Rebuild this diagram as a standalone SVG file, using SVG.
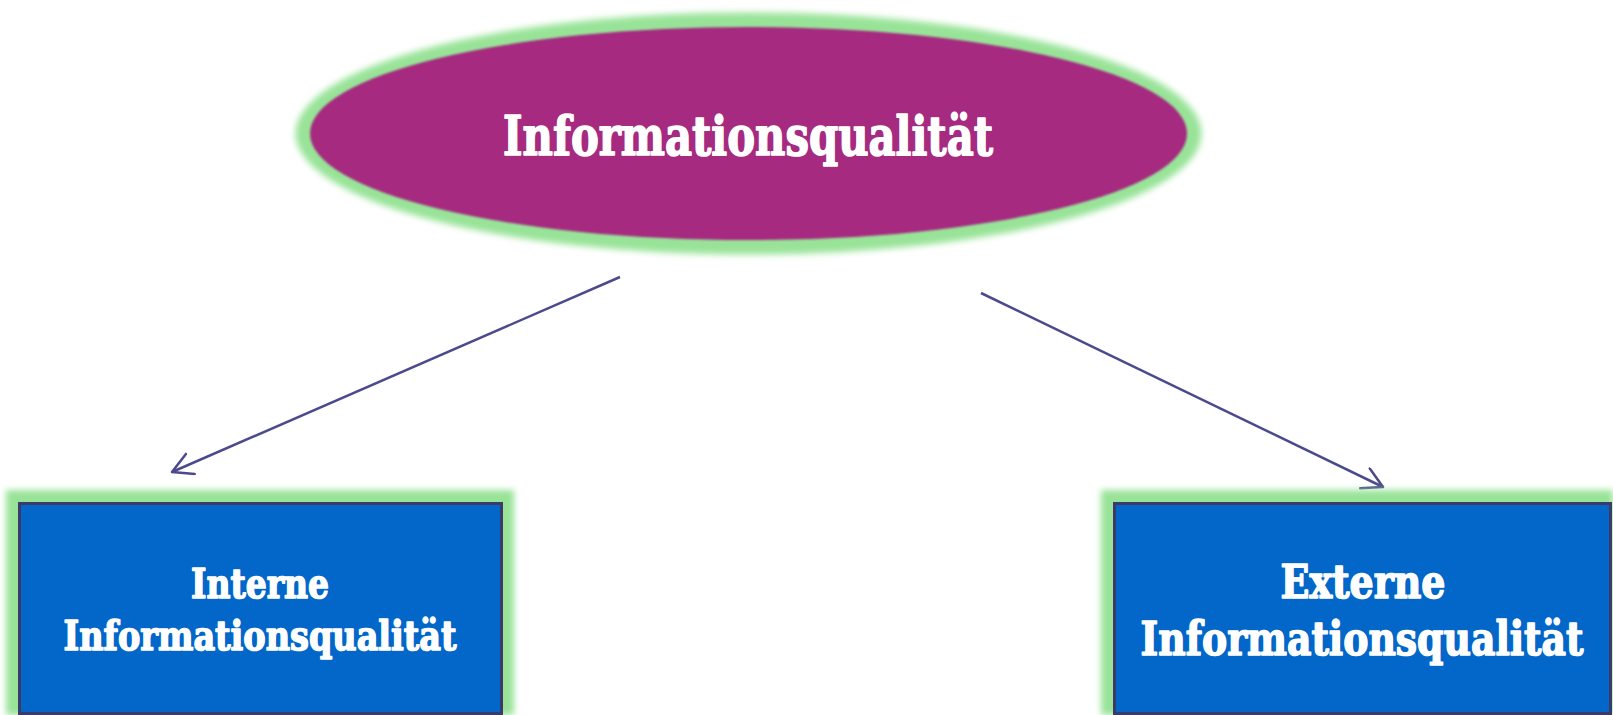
<svg xmlns="http://www.w3.org/2000/svg" width="1613" height="715" viewBox="0 0 1613 715">
<style>
.lbl{font-family:"DejaVu Serif","Liberation Serif",serif;font-weight:bold;fill:#ffffff;stroke:#ffffff;stroke-width:1.6;stroke-linejoin:round;text-anchor:middle}
.conn{stroke:#4b4a8c;stroke-width:2.5;fill:none}
.glow{fill:#98e398}
.box{fill:#0366c9;stroke:#3b3a68;stroke-width:3}
</style>
<defs>
<filter id="blur" x="-10%" y="-10%" width="120%" height="120%"><feGaussianBlur stdDeviation="3"/></filter>
<filter id="soft" x="-5%" y="-5%" width="110%" height="110%"><feGaussianBlur stdDeviation="1"/></filter>
<marker id="arr" markerUnits="userSpaceOnUse" markerWidth="30" markerHeight="30" refX="22" refY="12" orient="auto">
<polyline points="2,1 22,12 2,23" fill="none" stroke="#4b4a8c" stroke-width="2.5" stroke-linecap="round" stroke-linejoin="round"/>
</marker>
</defs>
<rect width="1613" height="715" fill="#ffffff"/>
<g id="connectors">
<line class="conn" x1="620" y1="277" x2="172" y2="472" marker-end="url(#arr)"/>
<line class="conn" x1="981" y1="293" x2="1383" y2="487" marker-end="url(#arr)"/>
</g>
<g id="node-top">
<ellipse class="glow" cx="748.5" cy="133.5" rx="453" ry="121" filter="url(#blur)"/>
<ellipse cx="748.5" cy="133.5" rx="438.5" ry="106.5" fill="#a52a80" filter="url(#soft)"/>
<text class="lbl" x="748" y="155" font-size="54" textLength="490" lengthAdjust="spacingAndGlyphs">Informationsqualität</text>
</g>
<g id="node-internal">
<rect class="glow" x="6" y="490" width="508" height="225" filter="url(#blur)"/>
<rect class="box" x="19.5" y="503.5" width="482" height="210"/>
<text class="lbl" x="260" y="598" font-size="41" textLength="138" lengthAdjust="spacingAndGlyphs">Interne</text>
<text class="lbl" x="260" y="650" font-size="41" textLength="393" lengthAdjust="spacingAndGlyphs">Informationsqualität</text>
</g>
<g id="node-external">
<rect class="glow" x="1101" y="490" width="512" height="225" filter="url(#blur)"/>
<rect class="box" x="1114.5" y="503.5" width="496" height="210"/>
<text class="lbl" x="1363" y="598" font-size="46" textLength="165" lengthAdjust="spacingAndGlyphs">Externe</text>
<g transform="translate(1362,655) scale(0.72,1)">
<text class="lbl" x="0" y="0" font-size="46" textLength="615" lengthAdjust="spacingAndGlyphs">Informationsqualität</text>
</g>
</g>
</svg>
